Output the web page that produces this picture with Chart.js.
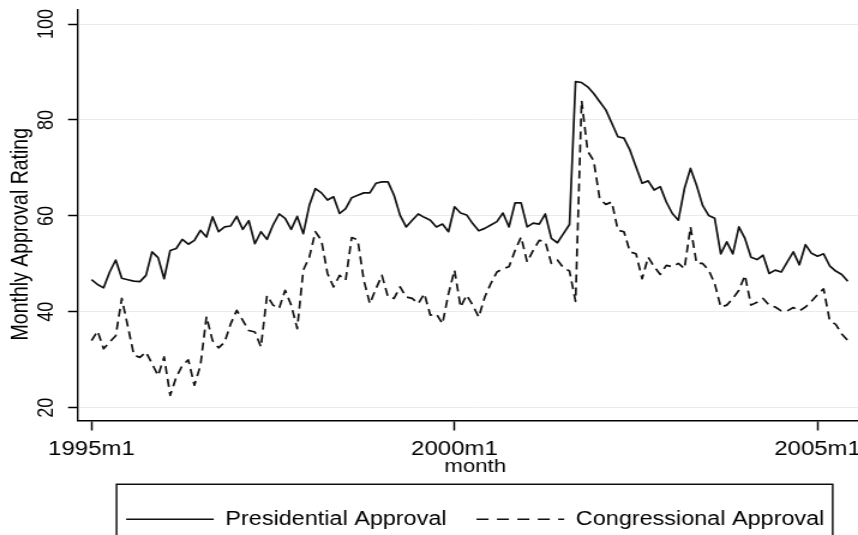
<!DOCTYPE html>
<html>
<head>
<meta charset="utf-8">
<script src="https://cdn.jsdelivr.net/npm/chart.js@4.4.1/dist/chart.umd.min.js"></script>
<style>
html,body{margin:0;padding:0;background:#fff;overflow:hidden;width:858px;height:535px;}
#wrap{position:absolute;left:0;top:0;width:727px;height:539px;transform:scaleX(1.2);transform-origin:0 0;}
canvas{display:block;}
</style>
</head>
<body>
<div id="wrap"><canvas id="c" width="727" height="539"></canvas></div>
<script>
// ---- data (monthly, starting 1995m1) ----
const startYear = 1995;
const seriesNames = ['Presidential Approval', 'Congressional Approval'];
const presidential = [
  46.7, 45.7, 45.0, 48.3, 50.8, 47.0, 46.7, 46.4, 46.3, 47.6, 52.5, 51.3,
  46.9, 52.8, 53.2, 55.1, 54.1, 54.9, 57.0, 55.6, 59.8, 56.7, 57.7, 57.9,
  59.9, 57.2, 59.0, 54.2, 56.7, 55.1, 58.1, 60.4, 59.5, 57.2, 59.9, 56.3,
  62.2, 65.7, 64.8, 63.3, 64.0, 60.5, 61.5, 63.8, 64.3, 64.8, 64.8, 66.8,
  67.1, 67.1, 64.3, 60.1, 57.7, 59.1, 60.4, 59.7, 59.1, 57.7, 58.3, 56.7,
  61.9, 60.6, 60.2, 58.4, 56.9, 57.4, 58.1, 58.8, 60.6, 57.7, 62.7, 62.7,
  57.7, 58.5, 58.3, 60.4, 55.3, 54.4, 56.3, 58.2, 88.0, 87.8, 86.9, 85.5,
  83.8, 82.1, 79.3, 76.5, 76.2, 73.7, 70.2, 66.8, 67.3, 65.4, 66.1, 62.9,
  60.5, 59.1, 65.7, 69.9, 66.4, 62.2, 60.1, 59.5, 52.1, 54.6, 52.1, 57.7,
  55.3, 51.4, 50.9, 51.8, 48.0, 48.7, 48.3, 50.4, 52.5, 49.8, 54.0, 52.2,
  51.6, 52.1, 49.6, 48.5, 47.8, 46.4
];
const congressional = [
  34.0, 36.0, 32.3, 33.7, 35.0, 42.8, 37.0, 31.0, 30.5, 31.6, 29.2, 26.7,
  30.6, 22.6, 26.4, 28.8, 30.0, 24.7, 28.8, 39.0, 34.0, 32.5, 33.7, 37.5,
  40.3, 38.2, 36.1, 35.8, 32.7, 43.4, 41.4, 40.7, 44.5, 41.4, 36.5, 48.7,
  51.4, 56.7, 54.9, 48.0, 45.2, 47.6, 46.6, 55.5, 55.0, 46.6, 41.7, 44.8,
  47.6, 43.1, 42.8, 45.2, 43.1, 42.8, 41.7, 43.8, 39.3, 39.6, 37.5, 43.8,
  48.7, 41.0, 43.5, 41.4, 38.9, 43.1, 45.9, 48.3, 49.0, 49.4, 52.8, 55.6,
  50.4, 52.8, 54.9, 54.6, 50.1, 50.8, 49.2, 48.5, 42.2, 84.0, 73.5, 71.5,
  63.5, 62.4, 62.9, 57.0, 56.7, 52.5, 52.1, 46.9, 51.4, 49.4, 47.8, 49.7,
  49.4, 50.1, 49.0, 57.7, 50.1, 50.1, 48.7, 45.9, 41.0, 41.4, 42.8, 44.5,
  47.6, 41.4, 42.0, 42.8, 41.4, 41.0, 40.2, 40.2, 40.9, 40.2, 41.0, 42.2,
  43.6, 44.8, 38.2, 37.4, 35.4, 34.0
];
const months = presidential.map((_, i) => (startYear + Math.floor(i / 12)) + 'm' + (i % 12 + 1));
const xTickValues = [0, 60, 120];          // 1995m1, 2000m1, 2005m1
const yTickValues = [20, 40, 60, 80, 100];

const FONT = '"Liberation Sans", Arial, Helvetica, sans-serif';

const legendBox = {
  id: 'legendBox',
  afterDraw(chart) {
    const lg = chart.legend;
    if (!lg || !lg.legendHitBoxes || !lg.legendHitBoxes.length) return;
    const hb = lg.legendHitBoxes;
    const first = hb[0], last = hb[hb.length - 1];
    const cy = first.top + first.height / 2;
    const left = first.left - 8;
    const right = last.left + last.width + 7;
    const ctx = chart.ctx;
    ctx.save();
    ctx.strokeStyle = '#000';
    ctx.lineWidth = 1.4;
    ctx.strokeRect(left, cy - 35, right - left, 80);
    ctx.restore();
  }
};

new Chart(document.getElementById('c'), {
  type: 'line',
  data: {
    datasets: [
      {
        label: seriesNames[0],
        data: presidential.map((v, i) => ({x: i, y: v})),
        borderColor: '#111',
        backgroundColor: 'rgba(0,0,0,0)',
        borderWidth: 1.7,
        borderDash: [],
        borderJoinStyle: 'round',
        pointRadius: 0,
        tension: 0
      },
      {
        label: seriesNames[1],
        data: congressional.map((v, i) => ({x: i, y: v})),
        borderColor: '#111',
        backgroundColor: 'rgba(0,0,0,0)',
        borderWidth: 1.7,
        borderDash: [8, 5],
        borderJoinStyle: 'round',
        pointRadius: 0,
        tension: 0
      }
    ]
  },
  options: {
    responsive: false,
    animation: false,
    events: [],
    layout: {padding: {top: 10, left: 0, right: 0, bottom: 0}},
    scales: {
      x: {
        type: 'linear',
        min: -2.231,
        max: 129.07,
        afterBuildTicks: s => { s.ticks = xTickValues.map(v => ({value: v})); },
        afterFit: s => { s.height = 64; s.paddingLeft = 0; s.paddingRight = 0; },
        border: {display: true, color: '#000', width: 1.5},
        grid: {drawOnChartArea: false, drawTicks: true, tickLength: 10, tickColor: '#000', tickWidth: 1.5},
        ticks: {
          autoSkip: false, minRotation: 0, maxRotation: 0, padding: 7,
          color: '#000', font: {family: FONT, size: 20},
          callback: v => months[v]
        },
        title: {display: true, text: 'month', color: '#000', font: {family: FONT, size: 18.5}, padding: {top: 0, bottom: 6.6}}
      },
      y: {
        min: 17.35,
        max: 102.92,
        afterBuildTicks: s => { s.ticks = yTickValues.map(v => ({value: v})); },
        afterFit: s => { s.width = 65; s.paddingTop = 0; s.paddingBottom = 0; },
        border: {display: true, color: '#000', width: 1.4},
        grid: {color: '#ebebeb', lineWidth: 1, tickLength: 8.3, tickColor: '#000', tickWidth: 1.5},
        ticks: {
          autoSkip: false, minRotation: 90, maxRotation: 90, crossAlign: 'center', padding: 3,
          color: '#000', font: {family: FONT, size: 18}
        },
        title: {display: true, text: 'Monthly Approval Rating       ', color: '#000', font: {family: FONT, size: 19.5}, padding: {top: 6.4, bottom: 0}}
      }
    },
    plugins: {
      tooltip: {enabled: false},
      legend: {
        position: 'bottom',
        fullSize: false,
        maxHeight: 55,
        labels: {
          usePointStyle: true,
          pointStyle: 'line',
          pointStyleWidth: 73,
          padding: 25,
          color: '#000',
          font: {family: FONT, size: 19.5},
          generateLabels: chart => {
            const items = Chart.defaults.plugins.legend.labels.generateLabels(chart);
            items.forEach(it => {
              const ds = chart.data.datasets[it.datasetIndex];
              it.lineDash = (ds.borderDash && ds.borderDash.length) ? [10, 7] : [];
              it.lineWidth = 1.5;
              it.strokeStyle = ds.borderColor;
              it.fillStyle = 'rgba(0,0,0,0)';
              it.pointStyle = 'line';
            });
            return items;
          }
        }
      }
    }
  },
  plugins: [legendBox]
});
</script>
</body>
</html>
